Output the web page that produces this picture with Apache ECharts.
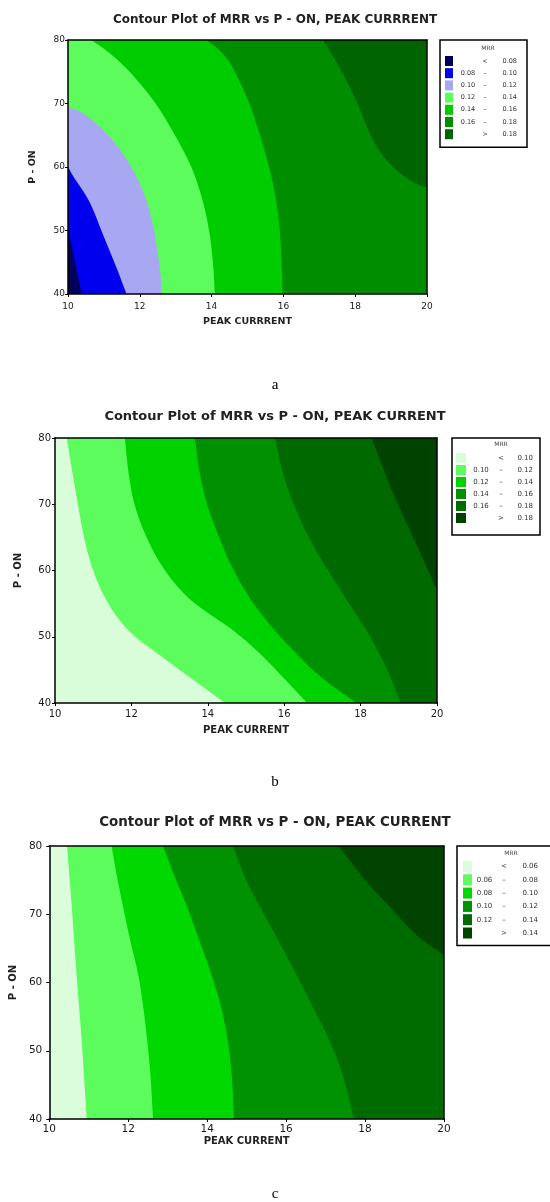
<!DOCTYPE html>
<html><head><meta charset="utf-8">
<script src="https://cdn.jsdelivr.net/npm/echarts@6/dist/echarts.min.js"></script>
<style>html,body{margin:0;padding:0;background:#fff}#c{width:550px;height:1202px}</style>
</head><body><div id="c"></div>
<script>
// ---------- DATA ----------
const xRange = [10, 20];
const yRange = [40, 80];
const xInterval = 2;
const yInterval = 10;

// Panel a
const aTitle = 'Contour Plot of MRR vs P - ON, PEAK CURRRENT';
const aXName = 'PEAK CURRRENT';
const aLabels = ['< 0.08', '0.08 – 0.10', '0.10 – 0.12', '0.12 – 0.14', '0.14 – 0.16', '0.16 – 0.18', '> 0.18'];
const aColors = ['#00005c', '#0000ee', '#a8a8f2', '#5cfc5c', '#00cc00', '#008e00', '#006400'];
// contour boundaries [PEAK CURRENT, P-ON]
const aB008 = [[10, 50], [10.12, 47], [10.25, 43.5], [10.38, 40]];
const aB010 = [[10, 60], [10.15, 58.5], [10.35, 56.8], [10.6, 54.5], [10.98, 49.3], [11.36, 44], [11.63, 40]];
const aB012 = [[10, 69.5], [10.35, 68.7], [10.75, 67], [11.2, 64.5], [11.6, 61.5], [11.95, 58], [12.2, 54.5], [12.38, 50.5], [12.5, 46.5], [12.58, 43], [12.61, 40]];
const aB014 = [[10.65, 80], [11.1, 78.2], [11.63, 75.5], [12.4, 70.3], [12.98, 65], [13.45, 59.8], [13.76, 54.5], [13.95, 49.3], [14.05, 44], [14.09, 40]];
const aB016 = [[13.85, 80], [14.2, 78.5], [14.5, 76.5], [14.78, 73.5], [15.05, 70], [15.35, 65], [15.6, 60], [15.79, 55], [15.9, 50], [15.95, 45], [15.98, 40]];
const aB018 = [[17.11, 80], [17.58, 75.5], [18.04, 70.3], [18.35, 66], [18.62, 63], [18.95, 60.6], [19.3, 58.8], [19.65, 57.5], [20, 56.8]];

// Panel b
const bTitle = 'Contour Plot of MRR vs P - ON, PEAK CURRENT';
const bXName = 'PEAK CURRENT';
const bLabels = ['< 0.10', '0.10 – 0.12', '0.12 – 0.14', '0.14 – 0.16', '0.16 – 0.18', '> 0.18'];
const bColors = ['#d9fdd9', '#5cfc5c', '#00d200', '#009000', '#006a00', '#004200'];
const bB010 = [[10.31, 80], [10.45, 75], [10.6, 70], [10.76, 65], [11.0, 60], [11.3, 56], [11.65, 52.8], [12.1, 50], [12.8, 47], [13.5, 44], [14.45, 40]];
const bB012 = [[11.83, 80], [11.92, 75], [12.08, 70], [12.4, 65], [12.88, 60], [13.5, 55.8], [14.1, 53.2], [14.7, 50.8], [15.3, 47.8], [15.95, 44], [16.6, 40]];
const bB014 = [[13.66, 80], [13.78, 75], [13.98, 70], [14.3, 65], [14.68, 60], [15.2, 55], [15.9, 50], [16.4, 47], [16.75, 45], [17.4, 42], [17.9, 40]];
const bB016 = [[15.76, 80], [15.95, 75], [16.25, 70], [16.65, 65], [17.15, 60], [17.7, 55], [18.25, 50], [18.7, 45], [19.05, 40]];
const bB018 = [[18.29, 80], [18.55, 76], [18.9, 71], [19.3, 66], [19.65, 61.5], [20, 57]];

// Panel c
const cTitle = 'Contour Plot of MRR vs P - ON, PEAK CURRENT';
const cXName = 'PEAK CURRENT';
const cLabels = ['< 0.06', '0.06 – 0.08', '0.08 – 0.10', '0.10 – 0.12', '0.12 – 0.14', '> 0.14'];
const cColors = ['#dcfddc', '#5cfc5c', '#00d800', '#009200', '#006c00', '#004400'];
const cB006 = [[10.45, 80], [10.57, 71.1], [10.69, 61.3], [10.82, 51.6], [10.95, 40]];
const cB008 = [[11.58, 80], [11.7, 76], [11.87, 71.1], [12.05, 66.2], [12.25, 61.3], [12.38, 56.5], [12.48, 51.6], [12.56, 46.7], [12.63, 40]];
const cB010 = [[12.88, 80], [13.2, 75.2], [13.5, 71], [13.8, 66.2], [14.1, 61.3], [14.35, 56.5], [14.52, 51.6], [14.62, 46.7], [14.68, 40]];
const cB012 = [[14.65, 80], [14.99, 75], [15.35, 71], [15.8, 66.2], [16.25, 61.3], [16.67, 56.5], [17.09, 51.6], [17.42, 46.7], [17.72, 40]];
const cB014 = [[17.34, 80], [18.0, 75], [18.65, 71], [19.2, 67.5], [19.6, 65.6], [20, 64]];

const panels = [
  { key: 'a', title: aTitle, xName: aXName, labels: aLabels, colors: aColors, bounds: [aB008, aB010, aB012, aB014, aB016, aB018] },
  { key: 'b', title: bTitle, xName: bXName, labels: bLabels, colors: bColors, bounds: [bB010, bB012, bB014, bB016, bB018] },
  { key: 'c', title: cTitle, xName: cXName, labels: cLabels, colors: cColors, bounds: [cB006, cB008, cB010, cB012, cB014] }
];

// ---------- LAYOUT ----------
const layout = [
  { grid: { left: 68, top: 40, width: 359, height: 254 }, titleTop: 8.5, titleSize: 12, tick: 9, yMargin: 3, xMargin: 8,
    xNameGap: 23, yNameGap: 30, nameSize: 9.5, letter: 'a', letterTop: 373,
    legend: { left: 440, top: 40, padding: [16, 10, 8, 5], iw: 8, ih: 10, gap: 2.2, lo: 20, op: 14, hi: 25, fs: 6.5 },
    mrr: [488, 48] },
  { grid: { left: 55, top: 438, width: 382, height: 265 }, titleTop: 405, titleSize: 13, tick: 10, yMargin: 4, xMargin: 6,
    xNameGap: 22, yNameGap: 32, nameSize: 10, letter: 'b', letterTop: 770,
    legend: { left: 452, top: 438, padding: [15, 7, 12, 4], iw: 10, ih: 10, gap: 2, lo: 20, op: 20, hi: 22, fs: 7 },
    mrr: [501, 444] },
  { grid: { left: 47, top: 846, width: 397, height: 273 }, titleTop: 811, titleSize: 13.4, tick: 10.5, yMargin: 7, xMargin: 5,
    xNameGap: 17, yNameGap: 28, nameSize: 10, letter: 'c', letterTop: 1182,
    legend: { left: 457, top: 846, padding: [15, 14, 7, 6], iw: 9, ih: 11, gap: 2.3, lo: 15, op: 24, hi: 22, fs: 7 },
    mrr: [511, 853] }
];

// ---------- BUILD ----------
function corners(b) {
  const s = b[0], e = b[b.length - 1], out = [];
  if (e[1] === yRange[0]) out.push([xRange[1], yRange[0]], [xRange[1], yRange[1]]);
  else if (e[0] === xRange[1]) out.push([xRange[1], yRange[1]]);
  if (s[0] === xRange[0] && s[1] < yRange[1]) out.push([xRange[0], yRange[1]]);
  return out;
}
// centripetal Catmull-Rom -> cubic bezier path through pixel points
function smoothPath(px) {
  const n = px.length;
  const P = i => {
    if (i < 0) return [2 * px[0][0] - px[1][0], 2 * px[0][1] - px[1][1]];
    if (i >= n) return [2 * px[n - 1][0] - px[n - 2][0], 2 * px[n - 1][1] - px[n - 2][1]];
    return px[i];
  };
  const dist = (a, b) => Math.max(1e-6, Math.sqrt(Math.hypot(b[0] - a[0], b[1] - a[1])));
  let d = 'M' + px[0][0] + ' ' + px[0][1];
  for (let i = 0; i < n - 1; i++) {
    const p0 = P(i - 1), p1 = P(i), p2 = P(i + 1), p3 = P(i + 2);
    const d1 = dist(p0, p1), d2 = dist(p1, p2), d3 = dist(p2, p3);
    const c1 = [0, 1].map(k => (d1 * d1 * p2[k] - d2 * d2 * p0[k] + (2 * d1 * d1 + 3 * d1 * d2 + d2 * d2) * p1[k]) / (3 * d1 * (d1 + d2)));
    const c2 = [0, 1].map(k => (d3 * d3 * p1[k] - d2 * d2 * p3[k] + (2 * d3 * d3 + 3 * d3 * d2 + d2 * d2) * p2[k]) / (3 * d3 * (d3 + d2)));
    d += ' C' + c1[0] + ' ' + c1[1] + ' ' + c2[0] + ' ' + c2[1] + ' ' + p2[0] + ' ' + p2[1];
  }
  return d;
}
function regionRender(pts) {
  const close = corners(pts);
  return function (params, api) {
    if (params.dataIndex !== 0) return null;
    const px = pts.map(p => api.coord(p));
    let d = smoothPath(px);
    close.forEach(c => { const q = api.coord(c); d += ' L' + q[0] + ' ' + q[1]; });
    d += ' Z';
    return { type: 'path', shape: { pathData: d }, style: { fill: api.visual('color'), stroke: null } };
  };
}
function baseRender(params, api) {
  if (params.dataIndex !== 0) return null;
  const p1 = api.coord([xRange[0], yRange[1]]);
  const p2 = api.coord([xRange[1], yRange[0]]);
  return { type: 'rect', shape: { x: p1[0], y: p1[1], width: p2[0] - p1[0], height: p2[1] - p1[1] }, style: { fill: api.visual('color') } };
}

const font = 'DejaVu Sans';
const option = {
  backgroundColor: '#fff', animation: false,
  title: [], grid: [], xAxis: [], yAxis: [], series: [], legend: [], graphic: []
};

panels.forEach((p, i) => {
  const L = layout[i];
  option.title.push({ text: p.title, left: 'center', top: L.titleTop,
    textStyle: { fontFamily: font, fontWeight: 'bold', fontSize: L.titleSize, color: '#222' } });
  option.title.push({ text: L.letter, left: 'center', top: L.letterTop,
    textStyle: { fontFamily: 'Liberation Serif', fontWeight: 'normal', fontSize: 15, color: '#000' } });
  option.grid.push(Object.assign({ containLabel: false }, L.grid));
  const axLine = { show: true, onZero: false, lineStyle: { color: '#000', width: 1.5 } };
  option.xAxis.push({
    type: 'value', gridIndex: i, min: xRange[0], max: xRange[1], interval: xInterval, z: 10,
    axisLine: axLine, axisTick: { show: true, length: 3, lineStyle: { color: '#000' } }, splitLine: { show: false },
    axisLabel: { fontFamily: font, fontSize: L.tick, color: '#1a1a1a', margin: L.xMargin },
    name: p.xName, nameLocation: 'middle', nameGap: L.xNameGap,
    nameTextStyle: { fontFamily: font, fontWeight: 'bold', fontSize: L.nameSize, color: '#222' }
  });
  option.xAxis.push({
    type: 'value', gridIndex: i, min: xRange[0], max: xRange[1], position: 'top', z: 10,
    axisLine: axLine, axisTick: { show: false }, axisLabel: { show: false }, splitLine: { show: false }
  });
  option.yAxis.push({
    type: 'value', gridIndex: i, min: yRange[0], max: yRange[1], interval: yInterval, z: 10,
    axisLine: axLine, axisTick: { show: true, length: 3, lineStyle: { color: '#000' } }, splitLine: { show: false },
    axisLabel: { fontFamily: font, fontSize: L.tick, color: '#1a1a1a', margin: L.yMargin },
    name: 'P - ON', nameLocation: 'middle', nameGap: L.yNameGap,
    nameTextStyle: { fontFamily: font, fontWeight: 'bold', fontSize: L.nameSize, color: '#222' }
  });
  option.yAxis.push({
    type: 'value', gridIndex: i, min: yRange[0], max: yRange[1], position: 'right', z: 10,
    axisLine: axLine, axisTick: { show: false }, axisLabel: { show: false }, splitLine: { show: false }
  });
  const names = p.labels.map(l => p.key + '#' + l);
  option.series.push({
    type: 'custom', name: names[0], xAxisIndex: i * 2, yAxisIndex: i * 2, clip: true,
    itemStyle: { color: p.colors[0] }, renderItem: baseRender,
    data: [[xRange[0], yRange[0]], [xRange[1], yRange[1]]]
  });
  p.bounds.forEach((b, k) => {
    option.series.push({
      type: 'custom', name: names[k + 1], xAxisIndex: i * 2, yAxisIndex: i * 2, clip: true,
      itemStyle: { color: p.colors[k + 1] }, renderItem: regionRender(b), data: b
    });
  });
  const G = L.legend;
  option.legend.push({
    data: names, orient: 'vertical', left: G.left, top: G.top, padding: G.padding,
    itemWidth: G.iw, itemHeight: G.ih, itemGap: G.gap, icon: 'rect', selectedMode: false,
    backgroundColor: '#fff', borderColor: '#000', borderWidth: 1.5, borderRadius: 0,
    itemStyle: { borderWidth: 0 },
    formatter: function (name) {
      const lbl = name.split('#')[1];
      if (lbl[0] === '<' || lbl[0] === '>') return '{lo|}{op|' + lbl[0] + '}{hi|' + lbl.slice(2) + '}';
      const parts = lbl.split(' – ');
      return '{lo|' + parts[0] + '}{op|–}{hi|' + parts[1] + '}';
    },
    textStyle: {
      fontFamily: font, fontSize: G.fs, color: '#333',
      rich: {
        lo: { width: G.lo, align: 'right', fontFamily: font, fontSize: G.fs, color: '#333' },
        op: { width: G.op, align: 'center', fontFamily: font, fontSize: G.fs, color: '#333' },
        hi: { width: G.hi, align: 'right', fontFamily: font, fontSize: G.fs, color: '#333' }
      }
    }
  });
  option.graphic.push({
    type: 'text', x: L.mrr[0], y: L.mrr[1], z: 100,
    style: { text: 'MRR', fontFamily: font, fontSize: 6, fill: '#444', align: 'center', verticalAlign: 'middle' }
  });
});

const chart = echarts.init(document.getElementById('c'), null, { renderer: 'canvas' });
chart.setOption(option);
</script>
</body></html>
